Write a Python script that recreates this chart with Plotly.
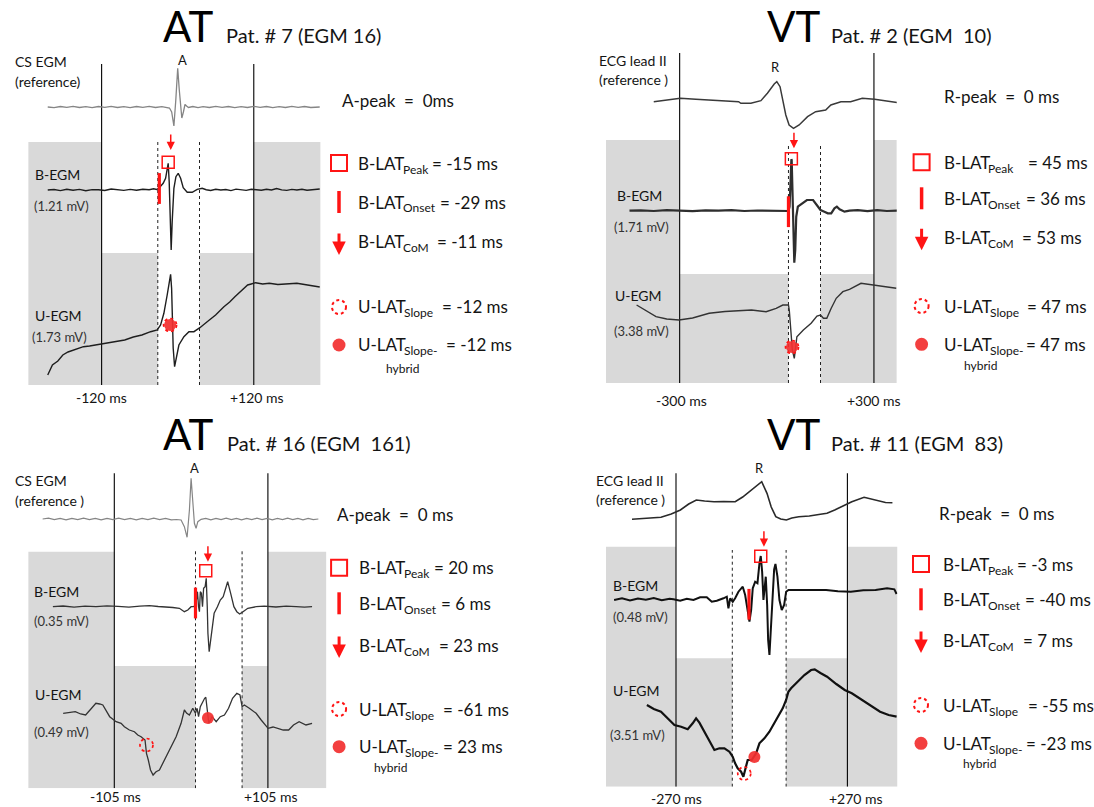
import plotly.graph_objects as go

W, H = 1094, 807
FONT = "Lato, 'Open Sans', sans-serif"
INK = "#141414"
RED = "#ff1414"
RED_FILL = "rgba(242,48,48,0.93)"
SHADE = "#d9d9d9"
NB = "\u00a0"

# Key entries of the activation-time markers (order: peak, onset, CoM, slope, hybrid)
lat_main = ["B-LAT", "B-LAT", "B-LAT", "U-LAT", "U-LAT"]
lat_sub = ["Peak", "Onset", "CoM", "Slope", "Slope-"]

# ===================== AT  Pat. # 7 (EGM 16) =====================
at7_ref_t = [-205, -195, -185, -175, -165, -155, -145, -135, -125, -115, -105, -95, -85, -75, -65,
             -55, -45, -35, -25, -18, -13, -9.5, -6, -3, 0, 2.5, 5, 6.5, 9, 11.5, 14, 17, 24, 32,
             40, 50, 60, 70, 80, 90, 100, 110, 120, 130, 140, 150, 160, 170, 180, 190, 200, 210, 224]
at7_ref_v = [0, -0.6, 0.5, -0.4, 0.6, -0.5, 0.3, -0.6, 0.5, -0.3, 0.6, -0.5, 0.4, -0.6, 0.5,
             -0.4, 0.6, -0.5, 0.3, -0.4, -1, -5, -19, 7, 38.7, 17, -5, -11, -5, 2.5, 1, -0.5, 0.5, -0.6,
             0.4, -0.5, 0.6, -0.4, 0.5, -0.6, 0.4, -0.5, 0.6, -0.4, 0.5, -0.6, 0.4, -0.5, 0.6, -0.4, 0.5, -0.5, 0]
at7_b_t = [-205, -195, -185, -175, -165, -155, -145, -135, -125, -115, -105, -95, -85, -75, -65, -55,
           -45, -38, -33, -29.7, -22.9, -19.1, -16.6, -15, -13.4, -11.8, -10.3, -8.7, -6, -2.8, 0.8,
           4.6, 8.7, 15, 22.9, 30.8, 38.6, 45, 52, 60, 68, 76, 84, 92, 100, 108, 116, 124, 132, 140,
           148, 156, 164, 172, 180, 188, 196, 204, 212, 224]
at7_b_v = [0, 0.5, -0.6, 0.8, -0.3, 0.6, -0.8, 0.4, 0.2, -0.5, 1, 0.1, -0.4, 0.6, -0.2, 0.8,
           0.2, 1.3, 0.6, 1.7, 6.7, 11.7, 20, 26.7, 8.3, -25, -60, -31.7, 1.7, 13.3, 16.7,
           11.7, 2.3, -2.3, -2.3, 0.7, 1.7, 0.3, -0.5, 0.7, 0, 0.5, -0.6, 0.9, 0.2, -0.4, 0.7, 0.2, -0.3, 0.8,
           0, 1.5, 0.1, -0.4, 0.6, 0, 0.8, -0.3, 0.5, 1]
at7_u_t = [-205, -197.6, -189, -181.2, -173, -165, -157, -148.7, -139, -129.7, -120, -110.7, -97, -83.6,
           -70, -56.5, -42.7, -32.3, -27, -21.8, -16.6, -12.8, -11.2, -9.6, -8.7, -7.1, -4.9, -1.7, 1.9,
           9.8, 17.7, 25.6, 35, 46.5, 59.8, 72.9, 82, 90.2, 100, 110.3, 116, 122.9, 134, 144.5, 158,
           171.6, 180, 188, 200, 212, 224]
at7_u_v = [-45, -35, -31, -25, -22, -20, -18, -16.7, -16, -15, -14, -13.3, -12, -10,
           -7, -5, -1.7, 0, 5, 16.7, 35, 48.3, 55.7, 41.7, 8.3, -18.3, -36.7, -25, -15,
           -6.7, -1.7, -1.7, 2.3, 8.3, 15, 23.3, 28, 33.3, 39, 45, 46, 47.3, 46, 46.7, 45.5,
           46, 47, 46.7, 45.5, 44, 43]
at7_lat_ms = [-15, -29, -11, -12, -12]
at7_lat_amp = [27.7, 1.5, 40, 5, 5]
at7_window_ms = 120
at7_gate_ms = [-31.4, 34.4]
at7_amp_mv = ["1.21", "1.73"]

# ===================== VT  Pat. # 2 (EGM 10) =====================
vt2_ref_t = [-380, -340, -298, -250, -205, -160, -118, -111, -80, -49, -29, -8, 0, 10, 17.6, 27.8, 38,
             51.6, 69, 95, 120, 151, 167, 198, 228, 264, 302, 340, 371]
vt2_ref_v = [-1.7, 0, 1.7, 0.8, 0, -0.8, -1.7, -3.3, -3.3, -0.7, 6.7, 16, 18.3, 13.3, 0, -15, -25,
             -28.3, -25, -16.7, -11.7, -10, -5, -1.7, -1.7, 1.7, 0.7, -1.2, -2.5]
vt2_b_t = [-455, -420, -380, -340, -300, -260, -220, -180, -140, -100, -60, -20, 10, 25, 32,
           36, 36.9, 39.4, 41, 42.5, 44, 45, 46, 48, 50, 52, 54, 57, 60, 65, 78, 93, 112, 126, 135,
           147, 157.5, 168, 178, 185.5, 194, 209, 224.5, 250, 280, 310, 340, 371]
vt2_b_v = [0, 0.4, -0.3, 0.5, 0, -0.4, 0.3, 0, 0.5, -0.3, 0.2, 0, 0.4, -0.2, 0,
           -0.3, 0.7, 4, 17.4, 44, 51.4, 51.4, 50.7, 24, -16, -42.6, -52, -39.3, -6, 4, 7.4, 10.7, 10.7, 4, 0.7,
           -1, -2.6, -2.6, 2.4, 4, 1.4, -1, 0, 0.5, -0.5, 0.6, -0.3, 0]
vt2_u_t = [-433, -400, -373, -340, -302, -260, -209, -160, -115, -78, -33, -2, 18.5, 36, 38.5, 41.5,
           44.5, 48, 54, 57, 62, 82, 106, 124, 135, 144, 154.4, 168, 183.5, 204, 224.5, 260, 298, 330, 369]
vt2_u_v = [5, -1, -6.7, -9, -10, -8, -3.3, -1.5, -0.5, 0, -1.7, 1.7, 5, 5, 0, -13.3,
           -30, -40, -48.3, -40, -26.7, -20, -13.3, -6, -5, -8.3, -8.3, 1.7, 11.7, 18.3, 20.7, 26.7, 25, 23, 21.7]
vt2_lat_ms = [45, 36, 53, 47, 47]
vt2_lat_amp = [52, -1, 62.4, -37, -37]
vt2_window_ms = 300
vt2_gate_ms = [36, 135]
vt2_amp_mv = ["1.71", "3.38"]

# ===================== AT  Pat. # 16 (EGM 161) =====================
at16_ref_t = [-203, -195, -187, -179, -171, -163, -155, -147, -139, -131, -123, -115, -107, -99, -91,
              -83, -75, -67, -59, -51, -43, -35, -27, -20, -13.7, -9.2, -5.5, -2.3, 0, 2.3, 4.5, 6.8,
              9.2, 13.7, 20, 27, 34, 41, 48, 55, 62, 69, 76, 83, 90, 97, 104, 111, 118, 125, 132, 139,
              146, 153, 160, 167, 174]
at16_ref_v = [0, 0.8, -0.6, 0.7, -0.8, 0.6, -0.7, 0.8, -0.6, 0.7, -0.8, 0.6, -0.7, 0.8, -0.6,
              0.7, -0.8, 0.6, -0.7, 0.8, -0.6, 0.7, -0.8, -0.5, -1, -7.7, -18.3, 9, 40.7, 19, -4.3, -9.3,
              -2.7, -0.3, 0.7, -0.8, 0.6, -0.7, 0.8, -0.6, 0.7, -0.8, 0.6, -0.7, 0.8, -0.6, 0.7, -0.8, 0.6, -0.7, 0.8, -0.6,
              0.7, -0.8, 0.6, -0.7, 0]
at16_b_t = [-189, -175, -160, -145, -130, -115, -100, -85, -70, -57, -45, -34.2, -25, -16, -9.2, -4.5, 0,
            3.1, 6.4, 6.7, 8.7, 10.2, 11.4, 12.6, 14.1, 15.6, 17.1, 19.2, 20.7, 22.1, 23, 24.7, 27.6, 31.5,
            36, 39.9, 43.9, 47.3, 50, 54.1, 58.5, 62.5, 66.4, 71, 77.5, 88.9, 100, 116, 130, 143.6, 155, 165.4]
at16_b_v = [0, 0.7, -0.5, 0.6, 0, 0.8, 0.3, -0.4, 0.6, 1, 0.2, 0, -0.8, -1.6, -5, -3.3, 0,
            0, 1, 3.4, 15, 0, -5, 15, 13.4, 0, 18.4, 20, 28.4, 0, -26.6, -45, -26.6, -6.6,
            0, 6.7, 10, 20, 25, 13.4, 0, -5, -7.3, -5, -1.6, 0, 0.6, -0.3, 0.5, 0, -0.4, 0]
at16_u_t = [-174.9, -166, -158.3, -151, -144.2, -137, -130.2, -125, -120.7, -111.3, -102.5, -95.7, -91.2,
            -84.4, -77.5, -72.9, -68.4, -63, -61, -58.5, -55.5, -52, -47.9, -43.3, -38.7, -34.2, -27.3,
            -20.5, -13.7, -9.2, -5.9, -2.3, 2.3, 5.9, 8.2, 10.2, 12.6, 15.6, 18.5, 20.1, 22.1, 24.2, 28.7,
            34.3, 39.9, 45.6, 51.2, 56.7, 62.5, 66.8, 69.7, 72.8, 79.6, 88.9, 95.8, 105.3, 112, 119.4, 126,
            133.4, 140, 147.7, 157.1, 165.4]
at16_u_v = [1.7, 2.5, 3.3, 1, 0, 6, 11.7, 11, 10, -1.7, -6.7, -8.3, -11.7,
            -15, -16.7, -20, -21.7, -25, -38.3, -45, -55, -60, -56.7, -55, -48.3, -41.7, -31.7,
            -21.7, -8.3, 5, 1.7, 0, 6.7, 1.7, 6.7, -1.7, 8.3, 13.3, 16.7, 17.7, 1.7, -8.3, -1.7,
            -6.7, -1.7, 0, 6.7, 16.7, 21.7, 20, 8.3, 10, 6.7, 1.7, -5, -13.3, -12, -13.3, -15,
            -15, -10, -6.7, -10, -8.3]
at16_lat_ms = [20, 6, 23, -61, 23]
at16_lat_amp = [36, 3.7, 45, -30, -3]
at16_window_ms = 105
at16_gate_ms = [6, 69.7]
at16_amp_mv = ["0.35", "0.49"]

# ===================== VT  Pat. # 11 (EGM 83) =====================
vt11_ref_t = [-408.6, -360, -317.3, -285, -256.1, -230, -206, -180, -150.3, -120, -83.5, -60, -39.1, -20,
              0, 16.7, 30, 44.4, 60, 77.8, 95, 116.9, 150, 180, 205.7, 230, 250.5, 283.9, 322.6, 361.7,
              390, 411.8]
vt11_ref_v = [-4.3, -3.5, -2.3, 1, 5, 11, 15, 14, 13.3, 13.5, 13.3, 18, 23.3, 28,
              33.3, 21.7, 8, -1.7, -4, -5, -3, -1.7, -1, 0.5, 1.7, 5, 8.3, 13.3, 17.7, 14.3,
              12.5, 12.3]
vt11_b_t = [-465, -440, -415, -390, -365, -340, -315, -290, -278, -257, -236, -215, -194, -173, -157.4,
            -141.6, -120.5, -110, -104.8, -99.4, -91.2, -83.7, -73.3, -59.7, -52.1, -44.9, -38.6, -33.2,
            -28.2, -20.6, -13.4, -7.1, -3, 1.4, 5.5, 8.6, 12.8, 17.2, 20.3, 24.4, 28.5, 33.8, 39.2, 43.3,
            49.6, 55.9, 63.2, 70.7, 77, 84.3, 110.5, 142, 163, 203, 240, 280.7, 320, 358.5, 395, 418, 425]
vt11_b_v = [-0.7, 1, -1.2, 0.8, -0.5, 1.2, -1, 0.6, 0, -1.4, 0.6, -0.7, 2, 2, -2.4,
            -1.4, 1, 2.6, -9, 1, -2.4, 1, 7.6, 12.6, 4.3, -12.4, -22.4, -10.7,
            11, 17.6, 16, 36, 43.3, 27.6, -0.7, 9.3, 22.6, -5.7, -40.7, -55.7, -29, 7.6, 30, 35.3,
            22.6, -0.7, -10.7, -5.7, 7.6, 9.3, 9.3, 8.6, 8.6, 9.3, 8, 7.6, 9, 9.3, 11, 10, 5.3]
vt11_u_t = [-361.7, -340, -317.3, -295, -275, -253.9, -233.1, -217.4, -206.7, -196.3, -180.5, -170.1,
            -159.4, -149, -133.3, -117.5, -101.8, -91.4, -83.8, -75.6, -64.9, -57.7, -52.3, -44.1, -31.5,
            -17.6, -7.2, 8.5, 24.3, 40, 55.8, 66.2, 76.9, 84.1, 92.6, 113.4, 134.5, 155.6, 167, 185, 206,
            235, 261.5, 283.9, 317.3, 345, 373, 400, 425]
vt11_u_v = [25, 21, 18.3, 11, 5, 3.3, 0.7, 6.7, 11.7, 7.3, -1.7, -6.7,
            -13.3, -20, -18.3, -18.3, -21.7, -26.7, -33.3, -38.3, -41.7, -46.7, -40, -30, -30,
            -23.3, -13.3, -8.3, -1.7, 6.7, 15, 21.7, 30, 38.3, 41.7, 48.3, 55, 60, 60.7, 57, 53.3,
            46, 40, 36.7, 30, 24, 18.3, 15, 13.3]
vt11_lat_ms = [-3, -40, 7, -55, -23]
vt11_lat_amp = [43, -5, 52.6, -43.5, -27]
vt11_window_ms = 270
vt11_gate_ms = [-92.6, 76.9]
vt11_amp_mv = ["0.48", "3.51"]

# ------------------------------------------------------------------
# Page geometry of the four panels (pixels on the 1094 x 807 page)
panels = [
    dict(kind="AT", pat="Pat. # 7 (EGM 16)", ref_name=("CS EGM", "(reference)"), peak="A",
         ref_value_text="A-peak" + NB * 2 + "=" + NB * 2 + "0ms",
         ref=(at7_ref_t, at7_ref_v), b=(at7_b_t, at7_b_v), u=(at7_u_t, at7_u_v),
         lat=at7_lat_ms, amp=at7_lat_amp, window=at7_window_ms, gate=at7_gate_ms, mv=at7_amp_mv,
         xpx=(28.2, 320.6), zero=177.7, scale=0.634, ypx=(50, 385),
         off=(278, 195, 55), shade_top=243, cut=132, line_top=321, dot_top=243,
         title_x=162, pat_x=224.5, base=42.5,
         ref_lbl_xy=(13.8, 61.7, 81.7), peak_xy=(182.5, 59.5),
         b_lbl=(34.4, 174), b_mv=(32.7, 205.7), u_lbl=(33.7, 315), u_mv=(31, 336.7),
         tick_xy=(101.2, 257, 397), icon_x=339, text_x=357, rows=(163, 202, 242, 307, 345),
         eq_x=(431, 438.5, 435.5, 440.5, 444.5),
         hybrid_xy=(402, 368), ref_value_xy=(341, 100),
         style=dict(ref=("#858585", 1.3), b=("#1e1e1e", 1.4), u=("#1e1e1e", 1.4))),
    dict(kind="VT", pat="Pat. # 2 (EGM" + NB * 2 + "10)", ref_name=("ECG lead II", "(reference )"), peak="R",
         ref_value_text="R-peak" + NB * 2 + "=" + NB * 2 + "0 ms",
         ref=(vt2_ref_t, vt2_ref_v), b=(vt2_b_t, vt2_b_v), u=(vt2_u_t, vt2_u_v),
         lat=vt2_lat_ms, amp=vt2_lat_amp, window=vt2_window_ms, gate=vt2_gate_ms, mv=vt2_amp_mv,
         xpx=(606, 896.8), zero=776.8, scale=0.3238, ypx=(45, 383),
         off=(283, 172.3, 73), shade_top=243, cut=109, line_top=330, dot_top=240,
         title_x=766, pat_x=829.7, base=42.5,
         ref_lbl_xy=(598.3, 60, 79.3), peak_xy=(775, 66.7),
         b_lbl=(616, 195), b_mv=(613, 226.7), u_lbl=(614, 295), u_mv=(613, 331),
         tick_xy=(681, 874, 400), icon_x=921.6, text_x=942.8, rows=(162.3, 198.3, 237.3, 306, 344.3),
         eq_x=(1026.5, 1025, 1021, 1025.5, 1024.5),
         hybrid_xy=(980, 365.7), ref_value_xy=(942.8, 96.7),
         style=dict(ref=("#3a3a3a", 1.5), b=("#2e2e2e", 2.2), u=("#333333", 1.4))),
    dict(kind="AT", pat="Pat. # 16 (EGM" + NB * 2 + "161)", ref_name=("CS EGM", "(reference )"), peak="A",
         ref_value_text="A-peak" + NB * 2 + "=" + NB * 2 + "0 ms",
         ref=(at16_ref_t, at16_ref_v), b=(at16_b_t, at16_b_v), u=(at16_u_t, at16_u_v),
         lat=at16_lat_ms, amp=at16_lat_amp, window=at16_window_ms, gate=at16_gate_ms, mv=at16_amp_mv,
         xpx=(28.2, 326.4), zero=191.1, scale=0.7314, ypx=(455, 788.3),
         off=(269.3, 181.6, 73.3), shade_top=236.6, cut=122.3, line_top=315, dot_top=238.3,
         title_x=161.8, pat_x=225.5, base=450.5,
         ref_lbl_xy=(13.8, 481, 500.7), peak_xy=(194.5, 468),
         b_lbl=(32.7, 591.7), b_mv=(32.7, 620.7), u_lbl=(33.7, 694), u_mv=(32.7, 731.7),
         tick_xy=(115.3, 271.3, 796.7), icon_x=339.1, text_x=358, rows=(567.7, 603.3, 645, 709, 746.7),
         eq_x=(433, 440, 438, 441.5, 441.5),
         hybrid_xy=(390, 767.7), ref_value_xy=(335.7, 514.3),
         style=dict(ref=("#858585", 1.2), b=("#333333", 1.3), u=("#333333", 1.3))),
    dict(kind="VT", pat="Pat. # 11 (EGM" + NB * 2 + "83)", ref_name=("ECG lead II", "(reference )"), peak="R",
         ref_value_text="R-peak" + NB * 2 + "=" + NB * 2 + "0 ms",
         ref=(vt11_ref_t, vt11_ref_v), b=(vt11_b_t, vt11_b_v), u=(vt11_u_t, vt11_u_v),
         lat=vt11_lat_ms, amp=vt11_lat_amp, window=vt11_window_ms, gate=vt11_gate_ms, mv=vt11_amp_mv,
         xpx=(606, 897.5), zero=761.7, scale=0.3174, ypx=(455, 786.7),
         off=(271.7, 187.4, 56.7), shade_top=240, cut=128.4, line_top=313.4, dot_top=236.7,
         title_x=766, pat_x=829.7, base=450.5,
         ref_lbl_xy=(594.8, 480, 500), peak_xy=(759.8, 468),
         b_lbl=(612.4, 585), b_mv=(612.4, 616.7), u_lbl=(612.4, 690), u_mv=(608.9, 735),
         tick_xy=(676.6, 856, 798.3), icon_x=921, text_x=942, rows=(564, 599.3, 640, 705, 743.3),
         eq_x=(1016, 1024, 1022, 1026.5, 1024.5),
         hybrid_xy=(979, 763.3), ref_value_xy=(937.5, 513.3),
         style=dict(ref=("#2a2a2a", 1.6), b=("#111111", 2.0), u=("#111111", 2.2))),
]

MAIN_W = {"B-LAT": 44.5, "U-LAT": 46}   # advance of the 17 px key word, before its subscript


def px_x(x):
    return x / W


def px_y(y):
    return 1 - y / H


fig = go.Figure()
shapes, annotations, layout_axes = [], [], {}


def text(x, y, s, size, color=INK, xanchor="left", yanchor="middle"):
    annotations.append(dict(x=px_x(x), y=px_y(y), xref="paper", yref="paper", text=s,
                            showarrow=False, xanchor=xanchor, yanchor=yanchor, borderpad=0,
                            font=dict(family=FONT, size=size, color=color)))


for i, p in enumerate(panels, start=1):
    xa = "x" if i == 1 else f"x{i}"
    ya = "y" if i == 1 else f"y{i}"
    xr = [(p["xpx"][0] - p["zero"]) / p["scale"], (p["xpx"][1] - p["zero"]) / p["scale"]]
    yr = [0, p["ypx"][1] - p["ypx"][0]]
    layout_axes["xaxis" if i == 1 else f"xaxis{i}"] = dict(
        domain=[px_x(p["xpx"][0]), px_x(p["xpx"][1])], range=xr, visible=False, anchor=ya, fixedrange=True)
    layout_axes["yaxis" if i == 1 else f"yaxis{i}"] = dict(
        domain=[px_y(p["ypx"][1]), px_y(p["ypx"][0])], range=yr, visible=False, anchor=xa, fixedrange=True)

    win = p["window"]
    g0, g1 = p["gate"]
    # shaded areas outside the analysis windows
    for x0, x1, ytop in [(xr[0], -win, p["shade_top"]), (win, xr[1], p["shade_top"]),
                         (-win, g0, p["cut"]), (g1, win, p["cut"])]:
        shapes.append(dict(type="rect", xref=xa, yref=ya, x0=x0, x1=x1, y0=0, y1=ytop,
                           fillcolor=SHADE, line=dict(width=0), layer="below"))
    for xv in (-win, win):
        shapes.append(dict(type="line", xref=xa, yref=ya, x0=xv, x1=xv, y0=0, y1=p["line_top"],
                           line=dict(color="#000000", width=1.1), layer="below"))
    for xv in (g0, g1):
        shapes.append(dict(type="line", xref=xa, yref=ya, x0=xv, x1=xv, y0=0, y1=p["dot_top"],
                           line=dict(color="#222222", width=1, dash="dot"), layer="below"))

    # signals: reference, bipolar and unipolar EGM
    for key, off in zip(("ref", "b", "u"), p["off"]):
        t, v = p[key]
        col, wid = p["style"][key]
        fig.add_trace(go.Scatter(x=t, y=[off + a for a in v], mode="lines",
                                 line=dict(color=col, width=wid), xaxis=xa, yaxis=ya,
                                 hoverinfo="skip", showlegend=False))

    lat, amp = p["lat"], p["amp"]
    ob, ou = p["off"][1], p["off"][2]
    # B-LAT peak (open square) and onset (bar)
    fig.add_trace(go.Scatter(x=[lat[0]], y=[ob + amp[0]], mode="markers", cliponaxis=False,
                             marker=dict(symbol="square-open", size=12, color=RED,
                                         line=dict(width=1.5, color=RED)),
                             xaxis=xa, yaxis=ya, hoverinfo="skip", showlegend=False))
    fig.add_trace(go.Scatter(x=[lat[1]], y=[ob + amp[1]], mode="markers", cliponaxis=False,
                             marker=dict(symbol="line-ns-open", size=22, color=RED,
                                         line=dict(width=3.2, color=RED)),
                             xaxis=xa, yaxis=ya, hoverinfo="skip", showlegend=False))
    # U-LAT slope-hybrid (filled dot)
    fig.add_trace(go.Scatter(x=[lat[4]], y=[ou + amp[4]], mode="markers", cliponaxis=False,
                             marker=dict(symbol="circle", size=12, color=RED_FILL, line=dict(width=0)),
                             xaxis=xa, yaxis=ya, hoverinfo="skip", showlegend=False))
    # U-LAT slope (dotted ring)
    shapes.append(dict(type="circle", xref=xa, yref=ya, xsizemode="pixel", ysizemode="pixel",
                       xanchor=lat[3], yanchor=ou + amp[3], x0=-6.5, x1=6.5, y0=-6.5, y1=6.5,
                       line=dict(color=RED, width=1.7, dash="dot"), layer="above"))
    # B-LAT centre of mass (arrow)
    annotations.append(dict(x=lat[2], y=ob + amp[2], xref=xa, yref=ya, ax=0, ay=-17,
                            axref="pixel", ayref="pixel", text="", showarrow=True,
                            arrowhead=2, arrowsize=1.1, arrowwidth=1.5, arrowcolor=RED))

    # titles
    text(p["title_x"], p["base"] - 0.387 * 42, p["kind"], 42, color="#000000")
    text(p["pat_x"], p["base"] - 0.387 * 20, p["pat"], 20)
    # channel labels
    text(p["ref_lbl_xy"][0], p["ref_lbl_xy"][1], p["ref_name"][0], 14)
    text(p["ref_lbl_xy"][0], p["ref_lbl_xy"][2], p["ref_name"][1], 14)
    text(p["peak_xy"][0], p["peak_xy"][1], p["peak"], 13, xanchor="center")
    text(p["b_lbl"][0], p["b_lbl"][1], "B-EGM", 14)
    text(p["b_mv"][0], p["b_mv"][1], f"({p['mv'][0]} mV)", 13, color="#333333")
    text(p["u_lbl"][0], p["u_lbl"][1], "U-EGM", 14)
    text(p["u_mv"][0], p["u_mv"][1], f"({p['mv'][1]} mV)", 13, color="#333333")
    # window tick labels
    text(p["tick_xy"][0], p["tick_xy"][2], f"-{win} ms", 14, xanchor="center")
    text(p["tick_xy"][1], p["tick_xy"][2], f"+{win} ms", 14, xanchor="center")
    # reference timing
    text(p["ref_value_xy"][0], p["ref_value_xy"][1], p["ref_value_text"], 17)

    # key on the right: word, lowered subscript, then the value
    cx = p["icon_x"]
    r = p["rows"]
    for main, sub, val, ry, ex in zip(lat_main, lat_sub, lat, r, p["eq_x"]):
        text(p["text_x"], ry, main, 17)
        text(p["text_x"] + MAIN_W[main], ry + 6, sub, 12)
        text(ex, ry, f"={NB}{val}{NB}ms", 17)
    text(p["hybrid_xy"][0], p["hybrid_xy"][1], "hybrid", 12, xanchor="center")
    shapes.append(dict(type="rect", xref="paper", yref="paper",
                       x0=px_x(cx - 8), x1=px_x(cx + 8), y0=px_y(r[0] + 8), y1=px_y(r[0] - 8),
                       line=dict(color=RED, width=2)))
    shapes.append(dict(type="line", xref="paper", yref="paper",
                       x0=px_x(cx), x1=px_x(cx), y0=px_y(r[1] + 11), y1=px_y(r[1] - 11),
                       line=dict(color=RED, width=3.5)))
    annotations.append(dict(x=px_x(cx), y=px_y(r[2] + 13), xref="paper", yref="paper", ax=0, ay=-23,
                            axref="pixel", ayref="pixel", text="", showarrow=True,
                            arrowhead=2, arrowsize=0.9, arrowwidth=3, arrowcolor=RED))
    shapes.append(dict(type="circle", xref="paper", yref="paper",
                       x0=px_x(cx - 7), x1=px_x(cx + 7), y0=px_y(r[3] + 7), y1=px_y(r[3] - 7),
                       line=dict(color=RED, width=2, dash="dot")))
    shapes.append(dict(type="circle", xref="paper", yref="paper",
                       x0=px_x(cx - 6.5), x1=px_x(cx + 6.5), y0=px_y(r[4] + 6.5), y1=px_y(r[4] - 6.5),
                       fillcolor=RED_FILL, line=dict(width=0)))

fig.update_layout(width=W, height=H, margin=dict(l=0, r=0, t=0, b=0),
                  paper_bgcolor="white", plot_bgcolor="rgba(0,0,0,0)", showlegend=False,
                  shapes=shapes, annotations=annotations, **layout_axes)
fig.write_html("out.html")
